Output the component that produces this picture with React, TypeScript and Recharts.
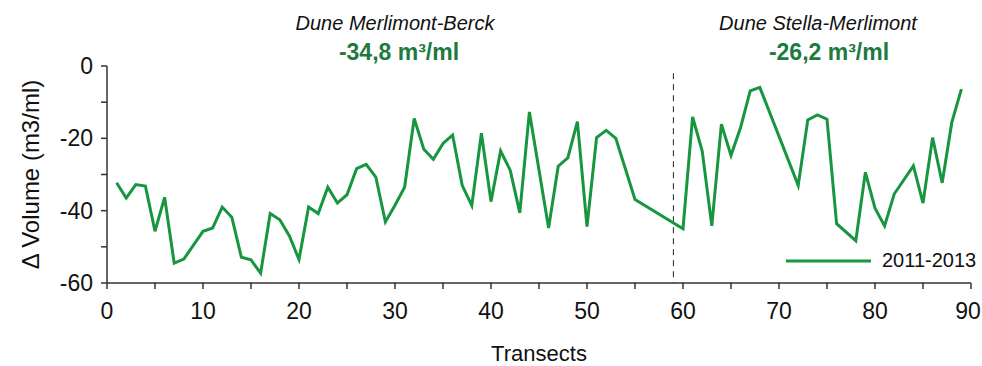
import { LineChart, Line, XAxis, YAxis, ReferenceLine } from "recharts";

const transects = [
  1, 2, 3, 4, 5, 6, 7, 8, 10, 11, 12, 13, 14, 15, 16, 17, 18, 19, 20, 21, 22, 23, 24, 25, 26, 27, 28, 29, 30,
  31, 32, 33, 34, 35, 36, 37, 38, 39, 40, 41, 42, 43, 44, 46, 47, 48, 49, 50, 51, 52, 53, 55, 60, 61, 62, 63,
  64, 65, 66, 67, 68, 72, 73, 74, 75, 76, 78, 79, 80, 81, 82, 84, 85, 86, 87, 88, 89,
];

const volume2011_2013 = [
  -32.3, -36.5, -32.8, -33.2, -45.7, -36.3, -54.5, -53.4, -45.7, -44.8, -39, -41.8, -52.9, -53.6, -57.3, -40.8,
  -42.5, -47, -53.5, -39, -40.8, -33.5, -37.9, -35.6, -28.4, -27.2, -30.7, -43.1, -38.5, -33.5, -14.5, -23,
  -25.8, -21.4, -19.1, -33, -38.6, -18.6, -37.5, -23.5, -28.8, -40.6, -12.7, -44.8, -27.7, -25.4, -15.4, -44.4,
  -19.8, -17.8, -20, -36.9, -45, -14.1, -23.5, -44.2, -16.1, -24.7, -17, -6.9, -5.9, -33, -14.9, -13.5, -14.7,
  -43.6, -48.3, -29.4, -39.3, -44.2, -35.4, -27.6, -37.9, -19.8, -32.3, -15.6, -6.4,
];

const xTicks = [0, 5, 10, 15, 20, 25, 30, 35, 40, 45, 50, 55, 60, 65, 70, 75, 80, 85, 90];
const yTicks = [0, -10, -20, -30, -40, -50, -60];

const dunes = [
  { name: "Dune Merlimont-Berck", total: "-34,8 m³/ml", cx: 395, cxTotal: 399 },
  { name: "Dune Stella-Merlimont", total: "-26,2 m³/ml", cx: 818, cxTotal: 829 },
];

const data = transects.map((t, i) => ({ transect: t, vol: volume2011_2013[i] }));

const font = "Arial, 'Liberation Sans', sans-serif";
const lineColor = "#17963f";
const axisColor = "#333";

// x tick labels; the last one is nudged so it stays inside the picture
const XTick = ({ x, y, payload }: any) => {
  const v = payload.value;
  if (v % 10 !== 0) return null;
  return (
    <text x={Math.min(x, 968)} y={y} dy="0.71em" textAnchor="middle" fontSize={23} fill="#111">
      {v}
    </text>
  );
};

export default function App() {
  return (
    <div style={{ position: "absolute", left: 0, top: 0, width: 982, height: 366, background: "#fff" }}>
      {dunes.map((d) => (
        <div key={d.name}>
          <div
            style={{
              position: "absolute",
              left: d.cx - 150,
              width: 300,
              top: 12,
              textAlign: "center",
              fontFamily: font,
              fontStyle: "italic",
              fontSize: 20,
              color: "#111",
            }}
          >
            {d.name}
          </div>
          <div
            style={{
              position: "absolute",
              left: d.cxTotal - 150,
              width: 300,
              top: 39,
              textAlign: "center",
              fontFamily: font,
              fontWeight: "bold",
              fontSize: 23,
              color: "#1e7a3f",
            }}
          >
            {d.total}
          </div>
        </div>
      ))}
      <LineChart
        width={982}
        height={366}
        data={data}
        margin={{ top: 66, right: 11, bottom: 0, left: 0 }}
        style={{ fontFamily: font }}
      >
        <XAxis
          dataKey="transect"
          type="number"
          domain={[0, 90]}
          ticks={xTicks}
          interval={0}
          tick={<XTick />}
          tickSize={6}
          tickMargin={14}
          height={83}
          stroke={axisColor}
          strokeWidth={1.5}
          label={{ value: "Transects", position: "insideBottom", offset: 5, fontSize: 22, fill: "#111" }}
        />
        <YAxis
          type="number"
          domain={[-60, 0]}
          ticks={yTicks}
          interval={0}
          tickFormatter={(v) => (v % 20 === 0 ? String(v) : "")}
          tick={{ fontSize: 23, fill: "#111" }}
          tickSize={6}
          tickMargin={8}
          width={107}
          stroke={axisColor}
          strokeWidth={1.5}
          label={{
            value: "Δ Volume (m3/ml)",
            angle: -90,
            position: "insideLeft",
            offset: 30,
            style: { textAnchor: "middle" },
            fontSize: 24,
            fill: "#111",
          }}
        />
        <ReferenceLine
          segment={[
            { x: 59, y: -2 },
            { x: 59, y: -60 },
          ]}
          stroke="#222"
          strokeDasharray="6 5"
          strokeWidth={1}
        />
        <Line
          type="linear"
          dataKey="vol"
          name="2011-2013"
          stroke={lineColor}
          strokeWidth={3}
          dot={false}
          isAnimationActive={false}
        />
      </LineChart>
      <div
        style={{
          position: "absolute",
          left: 786,
          top: 249,
          display: "flex",
          alignItems: "center",
          fontFamily: font,
          fontSize: 20,
          color: "#111",
        }}
      >
        <svg width={86} height={8} style={{ marginRight: 10 }}>
          <line x1={0} y1={4} x2={85} y2={4} stroke={lineColor} strokeWidth={3} />
        </svg>
        2011-2013
      </div>
    </div>
  );
}
